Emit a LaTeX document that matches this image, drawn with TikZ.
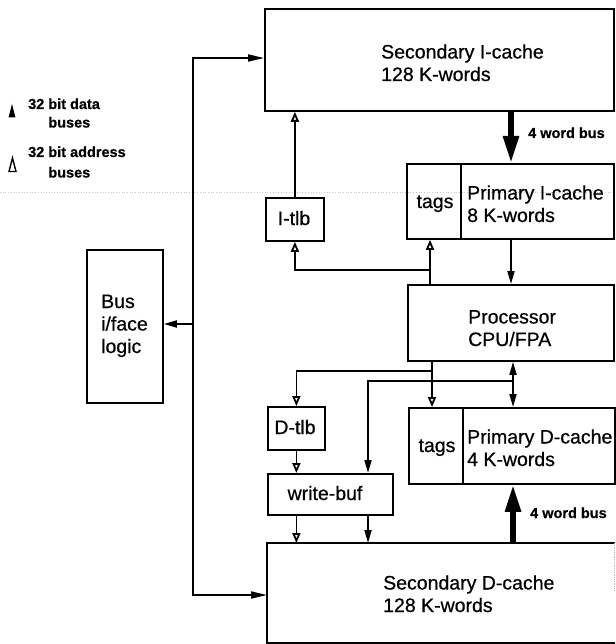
\documentclass[tikz,border=0pt]{standalone}
\usepackage{fontspec}
\setmainfont{Liberation Sans}[FakeBold=0.6]
\newfontfamily\mainreg{Liberation Sans}[FakeBold=0.6]
\usetikzlibrary{arrows.meta}
\begin{document}
\begin{tikzpicture}[x=1pt,y=-1pt,
  box/.style={draw, line width=1.8pt, inner sep=0pt, anchor=north west},
  txt/.style={font=\fontsize{19.5}{22.5}\selectfont, inner sep=0pt, align=left, anchor=base west},
  small/.style={font=\fontsize{14.5}{18.5}\selectfont\bfseries, inner sep=0pt, align=left, anchor=base west},
  conn/.style={line width=1.8pt},
  fa/.style={conn, -{Triangle[length=13pt,width=7pt]}},
  fab/.style={conn, {Triangle[length=13pt,width=7pt]}-{Triangle[length=13pt,width=7pt]}},
  busarr/.style={conn, {Triangle[length=16pt,width=7pt]}-{Triangle[length=16pt,width=7pt]}},
  oa/.style={conn, -{Triangle[open,length=10pt,width=8pt,fill=white]}},
  wide/.style={line width=5.5pt, -{Triangle[length=27pt,width=15pt]}}]
\useasboundingbox (0,0) rectangle (615,644);
\draw[gray!45, dotted, line width=0.7pt] (0,192) -- (615,192);
% boxes
\node[box, minimum width=349pt, minimum height=102pt] (sic) at (264,8) {};
\node[box, minimum width=207pt, minimum height=75pt] (pic) at (406,163) {};
\node[box, minimum width=58pt, minimum height=43pt] (itlb) at (265,197) {};
\node[box, minimum width=76pt, minimum height=153pt] (bus) at (86,249) {};
\node[box, minimum width=206pt, minimum height=76pt] (proc) at (407,284) {};
\node[box, minimum width=57pt, minimum height=43pt] (dtlb) at (267,406) {};
\node[box, minimum width=125pt, minimum height=41pt] (wbuf) at (267,473) {};
\node[box, minimum width=206pt, minimum height=76pt] (pdc) at (408,407) {};
\node[box, draw=none, minimum width=346pt, minimum height=98pt] (sdc) at (267,543) {};
\draw[conn] (sdc.north east) -- (sdc.north west) -- (sdc.south west) -- (sdc.south east);
\coordinate (sdcR) at (613,591);
\draw[gray!55, densely dotted, line width=0.8pt] (sdc.north east) -- (sdc.north east |- sdcR);
% tag dividers
\coordinate (dI) at (461,0);
\coordinate (dD) at (463,0);
\draw[conn] (pic.north -| dI) -- (pic.south -| dI);
\draw[conn] (pdc.north -| dD) -- (pdc.south -| dD);
% texts (base anchor = baseline of the last line)
\node[txt] (sictxt) at (381,81) {Secondary I-cache\\128 K-words};
\node[txt] (pictxt) at (467,222) {Primary I-cache\\8 K-words};
\node[txt, anchor=base] (pictag) at (435,208) {tags};
\node[txt, anchor=base] (itlbtxt) at (294,225) {I-tlb};
\node[txt] (bustxt) at (101,353) {Bus\\i/face\\logic};
\node[txt] (proctxt) at (468,346) {Processor\\CPU/FPA};
\node[txt, anchor=base] (dtlbtxt) at (295,434) {D-tlb};
\node[txt, anchor=base] (wbuftxt) at (325,500) {write-buf};
\node[txt, anchor=base] (pdctag) at (437,452) {tags};
\node[txt] (pdctxt) at (467,466) {Primary D-cache\\4 K-words};
\node[txt] (sdctxt) at (383,612) {Secondary D-cache\\128 K-words};
\node[small] (ibus) at (528,138) {4 word bus};
\node[small] (dbus) at (530,518) {4 word bus};
\node[small] (leg1) at (28,127.5) {32 bit data\\\hphantom{32 }buses};
\node[small, font=\fontsize{14.5}{20.5}\selectfont\bfseries] (leg2) at (28,177.5) {32 bit address\\\hphantom{32 }buses};
% legend marks
\fill (8.5,117.5) -- (12,104) -- (15.5,117.5) -- cycle;
\draw[line width=1.4pt, fill=white] (9,171.5) -- (12.5,158) -- (16,171.5) -- cycle;
% system bus
\coordinate (bT) at (193,58);
\coordinate (bB) at (193,595);
\coordinate (bM) at (193,324);
\draw[busarr] (sic.west |- bT) -- (bT) -- (bB) -- (sdc.west |- bB);
\draw[fa] (bM) -- (bus.east |- bM);
% I side
\draw[oa] (itlb.north) -- (itlb.north |- sic.south);
\coordinate (pT) at (430,270);
\draw[oa] (proc.north -| pT) -- (pic.south -| pT);
\draw[oa] (pT) -- (itlb.south |- pT) -- (itlb.south);
\coordinate (xI) at (511,0);
\draw[wide] (sic.south -| xI) -- (pic.north -| xI);
\draw[fa] (pic.south -| xI) -- (proc.north -| xI);
% D side
\coordinate (xA) at (432,371);
\coordinate (xB) at (513,381);
\coordinate (xW) at (368,0);
\draw[oa] (proc.south -| xA) -- (pdc.north -| xA);
\draw[oa] (xA) -- (dtlb.north |- xA) -- (dtlb.north);
\draw[fab] (proc.south -| xB) -- (pdc.north -| xB);
\draw[fa] (xB) -- (xW |- xB) -- (wbuf.north -| xW);
\draw[oa] (dtlb.south) -- (wbuf.north -| dtlb.south);
\draw[oa] (wbuf.south -| dtlb.south) -- (sdc.north -| dtlb.south);
\draw[fa] (wbuf.south -| xW) -- (sdc.north -| xW);
\draw[wide] (sdc.north -| xB) -- (pdc.south -| xB);
\end{tikzpicture}
\end{document}
